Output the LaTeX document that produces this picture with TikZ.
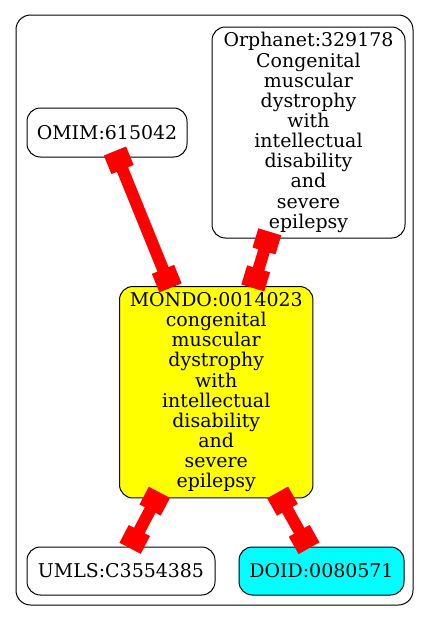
\documentclass[tikz,border=0pt]{standalone}
\usepackage{fontspec}
\setmainfont{DejaVu Serif}
\usetikzlibrary{calc}
\definecolor{gvred}{RGB}{255,0,0}
\definecolor{gvyellow}{RGB}{255,255,0}
\definecolor{gvcyan}{RGB}{0,255,255}
\newcommand\redge[2]{%
  \draw[shaft] (#1) -- (#2);
  \path ($(#1)!2.25pt!(#2)$) -- (#2) node[tbox, pos=0] {};
  \path ($(#2)!6pt!(#1)$) -- (#1) node[tbox, pos=0] {};
}
\begin{document}
\begin{tikzpicture}[x=0.75pt,y=-0.75pt,
  nd/.style={draw=black, line width=0.75pt, rounded corners=10pt, inner sep=0pt, align=center,
    font=\fontsize{14.2}{15.1}\selectfont},
  shaft/.style={draw=gvred, line width=9pt},
  tbox/.style={fill=gvred, draw=none, inner sep=0pt, minimum width=15pt, minimum height=18pt, sloped},
  cluster/.style={draw=black, line width=0.75pt, rounded corners=11pt},
]
\useasboundingbox (0,0) rectangle (429,619);
\draw[cluster] (16,15) rectangle (413,605);

\node[nd, minimum width=120pt, minimum height=36.75pt] (omim) at (107,132.5) {OMIM:615042};
\node[nd, minimum width=144.75pt, minimum height=158.25pt] (orpha) at (308.5,132.5)
  {Orphanet:329178\\Congenital\\muscular\\dystrophy\\with\\intellectual\\disability\\and\\severe\\epilepsy};
\node[nd, fill=gvyellow, minimum width=145.1pt, minimum height=158.6pt] (mondo) at (216.25,392.25)
  {MONDO:0014023\\congenital\\muscular\\dystrophy\\with\\intellectual\\disability\\and\\severe\\epilepsy};
\node[nd, minimum width=141pt, minimum height=36pt] (umls) at (121,571) {UMLS:C3554385};
\node[nd, fill=gvcyan, minimum width=123.75pt, minimum height=36pt] (doid) at (321.5,571) {DOID:0080571};

\coordinate (a1) at ($(omim.south west)!0.566!(omim.south east)$);
\coordinate (b1) at ($(mondo.north west)!0.261!(mondo.north east)$);
\coordinate (a2) at ($(orpha.south west)!0.290!(orpha.south east)$);
\coordinate (b2) at ($(mondo.north west)!0.691!(mondo.north east)$);
\coordinate (a3) at ($(mondo.south west)!0.191!(mondo.south east)$);
\coordinate (b3) at ($(umls.north west)!0.553!(umls.north east)$);
\coordinate (a4) at ($(mondo.south west)!0.833!(mondo.south east)$);
\coordinate (b4) at ($(doid.north west)!0.419!(doid.north east)$);

\redge{a1}{b1}
\redge{a2}{b2}
\redge{a3}{b3}
\redge{a4}{b4}
\end{tikzpicture}
\end{document}
